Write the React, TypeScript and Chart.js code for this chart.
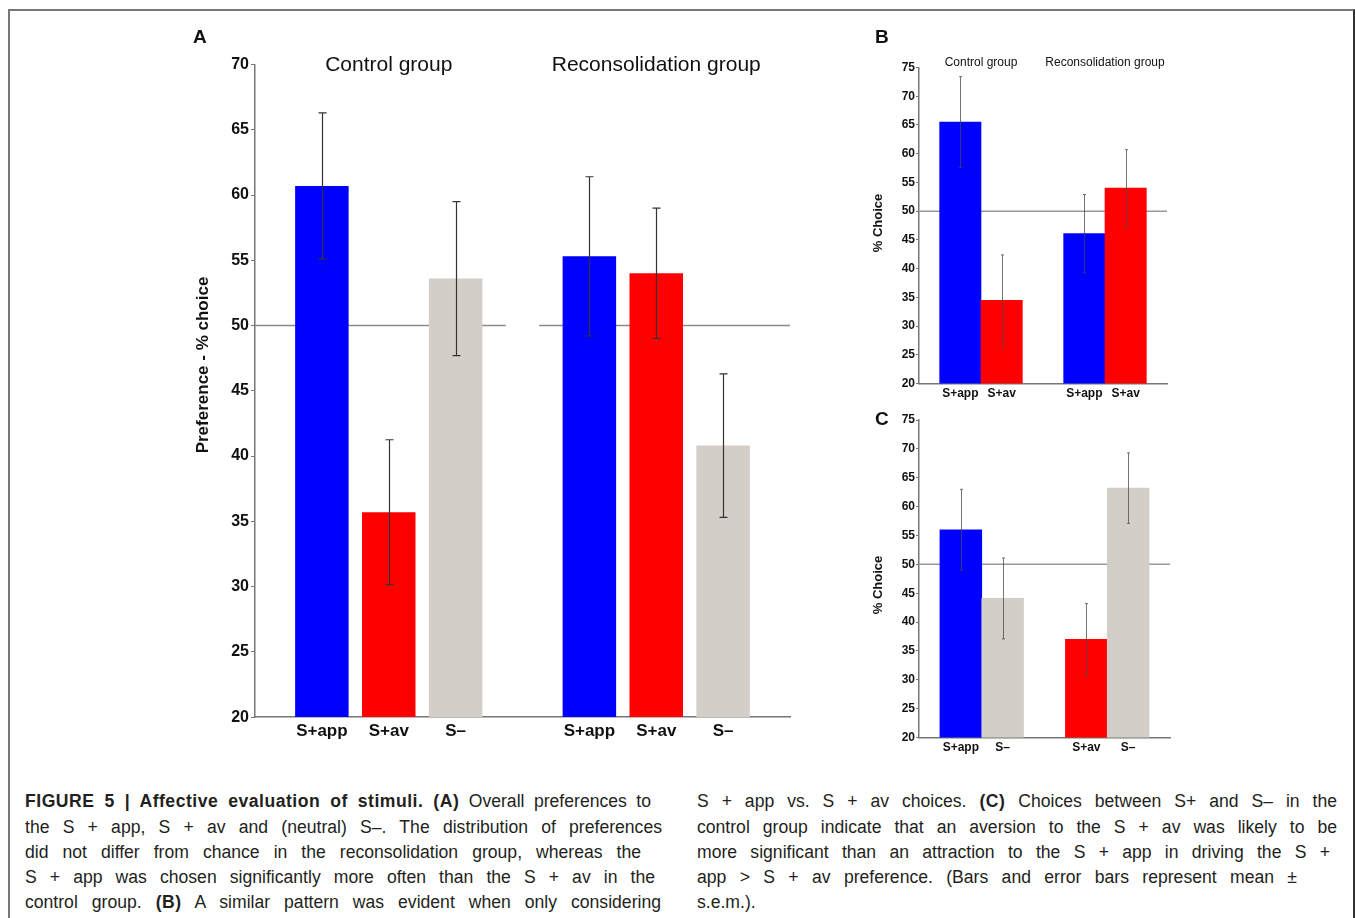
import React, { useEffect, useRef } from 'react';
import { Chart, registerables } from 'chart.js';

Chart.register(...registerables);

// ---------- DATA ----------
const A_LABELS = ['', 'S+app', 'S+av', 'S–', '', 'S+app', 'S+av', 'S–', ''];
const A_MEANS = [null, 60.7, 35.7, 53.6, null, 55.3, 54.0, 40.8, null];
const A_SEM = [null, 5.6, 5.55, 5.9, null, 6.1, 5.0, 5.5, null];
const A_GROUPS = ['Control group', 'Reconsolidation group'];
const A_TICKS = [20, 25, 30, 35, 40, 45, 50, 55, 60, 65, 70];

const B_LABELS = ['', 'S+app', 'S+av', '', 'S+app', 'S+av', ''];
const B_MEANS = [null, 65.5, 34.5, null, 46.1, 54.0, null];
const B_SEM = [null, 7.9, 7.9, null, 6.8, 6.7, null];
const B_GROUPS = ['Control group', 'Reconsolidation group'];

const C_LABELS = ['', 'S+app', 'S–', '', 'S+av', 'S–', ''];
const C_MEANS = [null, 56.0, 44.1, null, 37.0, 63.2, null];
const C_SEM = [null, 7.0, 7.0, null, 6.2, 6.1, null];
const C_GROUPS: string[] = [];

const BC_TICKS = [20, 25, 30, 35, 40, 45, 50, 55, 60, 65, 70, 75];
const CHANCE = 50;

// ---------- STYLE ----------
const FONT = '"Liberation Sans", Arial, Helvetica, sans-serif';
const AXIS = '#777';
function colorFor(label: string) {
  if (label.startsWith('S+app')) return '#0000ff';
  if (label.startsWith('S+av')) return '#ff0000';
  return '#d3cfc8';
}

function groupsOf(labels: string[]) {
  const groups: number[][] = [];
  let cur: number[] = [];
  labels.forEach((l, i) => {
    if (l === '') {
      if (cur.length) groups.push(cur);
      cur = [];
    } else cur.push(i);
  });
  if (cur.length) groups.push(cur);
  return groups;
}

function makeExtras(spec: any) {
  const groups = groupsOf(spec.labels);
  return {
    id: 'extras',
    beforeDatasetsDraw(chart: any) {
      const { ctx, chartArea } = chart;
      const x = chart.scales.x;
      const y = chart.scales.y;
      const yy = y.getPixelForValue(CHANCE);
      ctx.save();
      ctx.strokeStyle = spec.chanceColor;
      ctx.lineWidth = spec.chanceWidth;
      ctx.beginPath();
      if (spec.breakLine) {
        groups.forEach((g, gi) => {
          const x0 = gi === 0 ? chartArea.left : x.getPixelForValue(g[0] - 1 + spec.gap);
          const x1 = gi === groups.length - 1 ? chartArea.right : x.getPixelForValue(g[g.length - 1] + 1 - spec.gap);
          ctx.moveTo(x0, yy);
          ctx.lineTo(x1, yy);
        });
      } else {
        ctx.moveTo(chartArea.left, yy);
        ctx.lineTo(chartArea.right, yy);
      }
      ctx.stroke();
      ctx.restore();
    },
    afterDatasetsDraw(chart: any) {
      const { ctx } = chart;
      const x = chart.scales.x;
      const y = chart.scales.y;
      ctx.save();
      ctx.strokeStyle = spec.errColor;
      ctx.lineWidth = spec.errWidth;
      spec.means.forEach((m: number | null, i: number) => {
        const s = spec.sem[i];
        if (m == null || s == null) return;
        const px = Math.round(x.getPixelForValue(i)) + 0.5;
        const yt = y.getPixelForValue(m + s);
        const yb = y.getPixelForValue(m - s);
        ctx.beginPath();
        ctx.moveTo(px, yt);
        ctx.lineTo(px, yb);
        ctx.moveTo(px - spec.cap, yt);
        ctx.lineTo(px + spec.cap, yt);
        ctx.moveTo(px - spec.cap, yb);
        ctx.lineTo(px + spec.cap, yb);
        ctx.stroke();
      });
      ctx.restore();
    },
    afterDraw(chart: any) {
      const { ctx } = chart;
      const x = chart.scales.x;
      const y = chart.scales.y;
      ctx.save();
      ctx.fillStyle = '#111';
      ctx.font = `${spec.groupFont}px ${FONT}`;
      ctx.textAlign = 'center';
      ctx.textBaseline = 'middle';
      spec.groups.forEach((t: string, gi: number) => {
        const g = groups[gi];
        if (!g) return;
        const c = g.reduce((a, b) => a + b, 0) / g.length;
        ctx.fillText(t, x.getPixelForValue(c), y.getPixelForValue(spec.ticks[spec.ticks.length - 1]) + spec.groupDy);
      });
      // y-axis title
      ctx.translate(spec.yTitleX - spec.left, spec.yTitleY - spec.top);
      ctx.rotate(-Math.PI / 2);
      ctx.font = `bold ${spec.yTitleFont}px ${FONT}`;
      ctx.fillText(spec.yTitle, 0, 0);
      ctx.restore();
    },
  };
}

function buildConfig(spec: any) {
  return {
    type: 'bar',
    data: {
      labels: spec.labels,
      datasets: [
        {
          data: spec.means,
          backgroundColor: spec.labels.map(colorFor),
          borderWidth: 0,
          categoryPercentage: spec.catPct,
          barPercentage: 1,
        },
      ],
    },
    options: {
      animation: false,
      responsive: false,
      maintainAspectRatio: false,
      layout: { padding: spec.padding },
      plugins: { legend: { display: false }, tooltip: { enabled: false }, title: { display: false } },
      scales: {
        x: {
          offset: false,
          grid: { display: false, drawTicks: false },
          border: { display: true, color: AXIS, width: spec.axisWidth },
          ticks: {
            autoSkip: false,
            maxRotation: 0,
            minRotation: 0,
            color: '#111',
            padding: spec.xTickPad,
            font: { family: FONT, size: spec.xFont, weight: 'bold' },
          },
        },
        y: {
          min: spec.ticks[0],
          max: spec.ticks[spec.ticks.length - 1],
          afterBuildTicks: (s: any) => {
            s.ticks = spec.ticks.map((v: number) => ({ value: v }));
          },
          afterFit: (s: any) => {
            s.width = spec.yWidth;
          },
          grid: { drawOnChartArea: false, drawTicks: true, tickLength: spec.tickLen, color: AXIS, lineWidth: 1 },
          border: { display: true, color: AXIS, width: spec.axisWidth },
          ticks: {
            color: '#111',
            padding: spec.yTickPad,
            font: { family: FONT, size: spec.yFont, weight: 'bold' },
          },
          title: { display: false },
        },
      },
    },
    plugins: [makeExtras(spec)],
  };
}

const PANEL_A = {
  labels: A_LABELS, means: A_MEANS, sem: A_SEM, groups: A_GROUPS, ticks: A_TICKS,
  yTitle: 'Preference - % choice', yTitleX: 203, yTitleY: 365,
  left: 185, top: 40, width: 615, height: 720,
  padding: { top: 24.5, right: 10, bottom: 14.5, left: 0 },
  yWidth: 70, yTitleFont: 17, yFont: 16, xFont: 17, xTickPad: 4, yTickPad: 2, tickLen: 4,
  catPct: 0.8, axisWidth: 1.5, groupFont: 21, groupDy: 1,
  chanceColor: '#8a8a8a', chanceWidth: 1.5, breakLine: true, gap: 0.25,
  errColor: '#333', errWidth: 1.2, cap: 4,
};

const PANEL_B = {
  labels: B_LABELS, means: B_MEANS, sem: B_SEM, groups: B_GROUPS, ticks: BC_TICKS,
  yTitle: '% Choice', yTitleX: 878, yTitleY: 223,
  left: 860, top: 40, width: 320, height: 370,
  padding: { top: 27.5, right: 13, bottom: 6, left: 0 },
  yWidth: 59, yTitleFont: 13, yFont: 12, xFont: 12, xTickPad: 3, yTickPad: 1, tickLen: 3,
  catPct: 1, axisWidth: 1.5, groupFont: 12, groupDy: -4.5,
  chanceColor: '#999', chanceWidth: 1.5, breakLine: false, gap: 0,
  errColor: 'rgba(70,70,70,0.75)', errWidth: 1, cap: 1.5,
};

const PANEL_C = {
  labels: C_LABELS, means: C_MEANS, sem: C_SEM, groups: C_GROUPS, ticks: BC_TICKS,
  yTitle: '% Choice', yTitleX: 878, yTitleY: 585,
  left: 860, top: 395, width: 320, height: 370,
  padding: { top: 25, right: 10, bottom: 7, left: 0 },
  yWidth: 59, yTitleFont: 13, yFont: 12, xFont: 12, xTickPad: 3, yTickPad: 1, tickLen: 3,
  catPct: 1, axisWidth: 1.5, groupFont: 12, groupDy: 0,
  chanceColor: '#999', chanceWidth: 1.5, breakLine: false, gap: 0,
  errColor: 'rgba(70,70,70,0.75)', errWidth: 1, cap: 1.5,
};

function Panel({ spec }: { spec: any }) {
  const ref = useRef<HTMLCanvasElement>(null);
  useEffect(() => {
    const chart = new Chart(ref.current as HTMLCanvasElement, buildConfig(spec) as any);
    return () => chart.destroy();
  }, [spec]);
  return (
    <canvas
      ref={ref}
      width={spec.width}
      height={spec.height}
      style={{ position: 'absolute', left: spec.left, top: spec.top, width: spec.width, height: spec.height, display: 'block' }}
    />
  );
}

type Seg = { t: string; b?: boolean };
const CAP_LEFT: { segs: Seg[]; end: number | null }[] = [
  { segs: [{ t: 'FIGURE 5 | Affective evaluation of stimuli. (A)', b: true }, { t: ' Overall preferences to' }], end: 651 },
  { segs: [{ t: 'the S + app, S + av and (neutral) S–. The distribution of preferences' }], end: 662 },
  { segs: [{ t: 'did not differ from chance in the reconsolidation group, whereas the' }], end: 641 },
  { segs: [{ t: 'S + app was chosen significantly more often than the S + av in the' }], end: 655 },
  { segs: [{ t: 'control group. ' }, { t: '(B)', b: true }, { t: ' A similar pattern was evident when only considering' }], end: 661 },
];
const CAP_RIGHT: { segs: Seg[]; end: number | null }[] = [
  { segs: [{ t: 'S + app vs. S + av choices. ' }, { t: '(C)', b: true }, { t: ' Choices between S+ and S– in the' }], end: 1337 },
  { segs: [{ t: 'control group indicate that an aversion to the S + av was likely to be' }], end: 1337 },
  { segs: [{ t: 'more significant than an attraction to the S + app in driving the S +' }], end: 1330 },
  { segs: [{ t: 'app > S + av preference. (Bars and error bars represent mean ±' }], end: 1297 },
  { segs: [{ t: 's.e.m.).' }], end: null },
];
const LINE_Y = [801, 827, 852, 877, 902];

function CaptionCol({ lines, x }: { lines: { segs: Seg[]; end: number | null }[]; x: number }) {
  return (
    <>
      {lines.map((ln, i) => (
        <div
          key={i}
          style={{
            position: 'absolute',
            left: x,
            top: LINE_Y[i] - 12.5,
            width: ln.end ? ln.end - x : 300,
            height: 25,
            lineHeight: '25px',
            fontSize: 17.6,
            fontFamily: FONT,
            color: '#231f20',
            textAlign: ln.end ? 'justify' : 'left',
            textAlignLast: ln.end ? 'justify' : 'left',
            whiteSpace: 'normal',
          } as any}
        >
          {ln.segs.map((s, j) => (
            <span key={j} style={{ fontWeight: s.b ? 'bold' : 'normal', letterSpacing: s.b ? '0.5px' : 'normal' }}>{s.t}</span>
          ))}
        </div>
      ))}
    </>
  );
}

function Letter({ t, x, y }: { t: string; x: number; y: number }) {
  return (
    <div style={{ position: 'absolute', left: x, top: y - 12, height: 24, lineHeight: '24px', fontFamily: FONT, fontWeight: 'bold', fontSize: 19, color: '#111' }}>
      {t}
    </div>
  );
}

export default function App() {
  return (
    <div style={{ position: 'absolute', left: 0, top: 0, width: 1355, height: 918, overflow: 'hidden', background: '#fff' }}>
      <div
        style={{
          position: 'absolute',
          left: 8,
          top: 9,
          width: 1343,
          height: 1000,
          borderTop: '2px solid #777',
          borderLeft: '2px solid #777',
          borderRight: '2px solid #333',
        }}
      />
      <Panel spec={PANEL_A} />
      <Panel spec={PANEL_B} />
      <Panel spec={PANEL_C} />
      <Letter t="A" x={193} y={37} />
      <Letter t="B" x={875} y={37} />
      <Letter t="C" x={875} y={419} />
      <CaptionCol lines={CAP_LEFT} x={25} />
      <CaptionCol lines={CAP_RIGHT} x={697} />
    </div>
  );
}
